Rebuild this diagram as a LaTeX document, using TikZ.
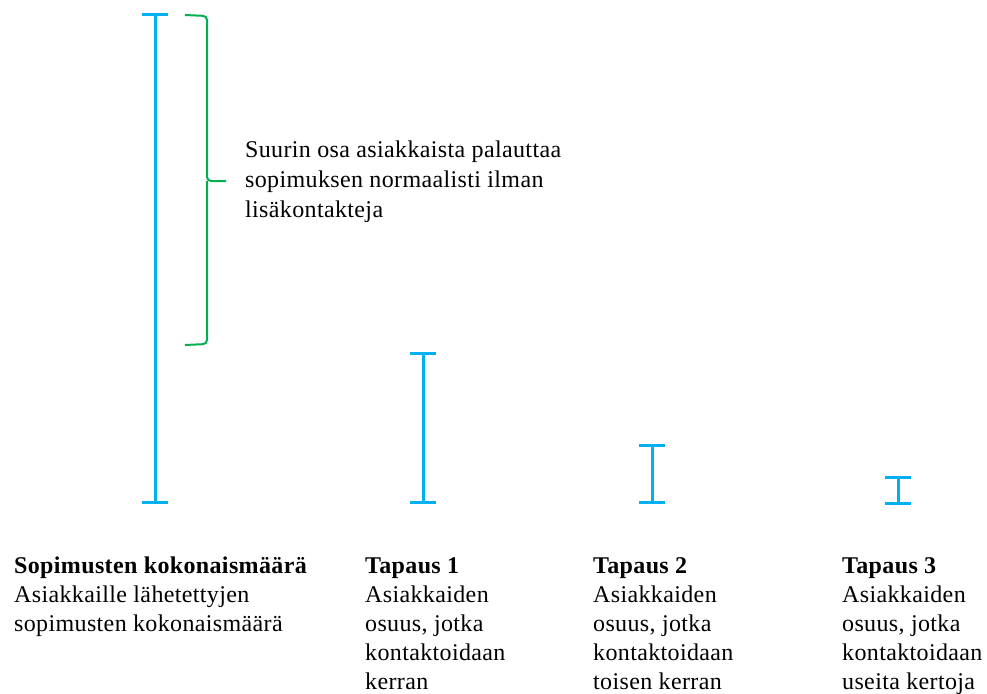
\documentclass[tikz,border=0pt]{standalone}
\usepackage{fontspec}
\setmainfont[LetterSpace=1.5]{Liberation Serif}
\definecolor{barblue}{RGB}{0,176,240}
\definecolor{bracegreen}{RGB}{0,176,80}
\begin{document}
\begin{tikzpicture}[x=1pt,y=-1pt,
  bar/.style={draw=barblue,line width=3pt},
  brace/.style={draw=bracegreen,line width=2pt,rounded corners=4pt},
  lbl/.style={anchor=base west,align=left,inner sep=0pt,font=\fontsize{24}{29}\selectfont},
  notelbl/.style={lbl,font=\fontsize{24}{30}\selectfont}]
\useasboundingbox (0,0) rectangle (987,693);
% total bar
\coordinate (t0) at (155,15);
\coordinate (b0) at (155,502);
\draw[bar] (t0) -- (b0) (142,15) -- (168,15) (142,502) -- (168,502);
% case 1
\coordinate (t1) at (423,353);
\coordinate (b1) at (423,502);
\draw[bar] (t1) -- (b1) (410,353) -- (436,353) (410,502) -- (436,502);
% case 2
\coordinate (t2) at (652,445);
\coordinate (b2) at (652,502);
\draw[bar] (t2) -- (b2) (639,445) -- (665,445) (639,502) -- (665,502);
% case 3
\coordinate (t3) at (898,477);
\coordinate (b3) at (898,503);
\draw[bar] (t3) -- (b3) (885,477) -- (911,477) (885,503) -- (911,503);
% brace
\draw[brace] (185,15) -- (207,16) -- (207,181) -- (226,181);
\draw[brace] (185,345) -- (207,344) -- (207,181);
% texts
\node[notelbl] (note) at (245,217) {Suurin osa asiakkaista palauttaa\\sopimuksen normaalisti ilman\\lisäkontakteja};
\node[lbl] (tot) at (14,631) {\textbf{Sopimusten kokonaismäärä}\\Asiakkaille lähetettyjen\\sopimusten kokonaismäärä};
\node[lbl] (c1) at (365,689) {\textbf{Tapaus 1}\\Asiakkaiden\\osuus, jotka\\kontaktoidaan\\kerran};
\node[lbl] (c2) at (593,689) {\textbf{Tapaus 2}\\Asiakkaiden\\osuus, jotka\\kontaktoidaan\\toisen kerran};
\node[lbl] (c3) at (842,689) {\textbf{Tapaus 3}\\Asiakkaiden\\osuus, jotka\\kontaktoidaan\\useita kertoja};
\end{tikzpicture}
\end{document}
